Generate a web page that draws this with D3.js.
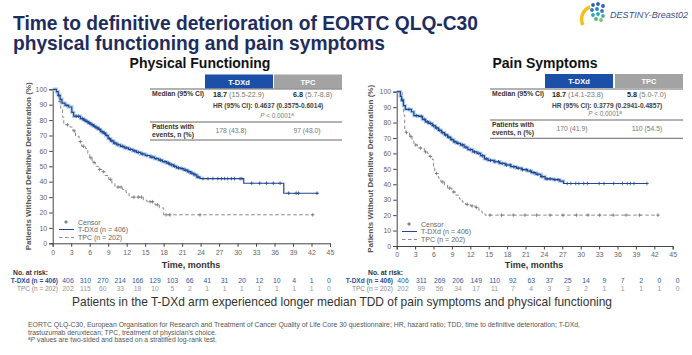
<!DOCTYPE html>
<html><head><meta charset="utf-8">
<script src="https://cdn.jsdelivr.net/npm/d3@7"></script>
<style>body{margin:0;background:#fff} svg{display:block} text{font-family:"Liberation Sans",Arial,Helvetica,sans-serif}</style>
</head><body><svg id="c" width="692" height="355"></svg>
<script>
// ---------------- DATA ----------------
const titleLines = ["Time to definitive deterioration of EORTC QLQ-C30", "physical functioning and pain symptoms"];
const panelTitles = ["Physical Functioning", "Pain Symptoms"];
const xTicks = [0,3,6,9,12,15,18,21,24,27,30,33,36,39,42,45];
const yTicks = [0,10,20,30,40,50,60,70,80,90,100];
const armNames = ["T-DXd", "TPC"];
const legendLabels = ["Censor", "T-DXd (n = 406)", "TPC (n = 202)"];
const riskLabels = ["T-DXd (n = 406)", "TPC (n = 202)"];

// Physical functioning – T-DXd  [time (months), % without deterioration]
const pfTdxdTime = [0,0.6,0.9,1.2,1.5,2.0,2.6,3.1,3.4,4.5,5.0,5.4,5.8,6.2,6.6,7.0,7.4,7.8,8.2,8.6,9.0,9.4,9.9,10.4,11.0,11.6,12.3,13.0,13.6,14.3,15.0,15.8,16.5,17.2,17.8,18.5,19.0,19.6,20.1,20.7,21.3,21.9,22.4,22.9,23.4,23.9,31.0,37.5];
const pfTdxdSurv = [100,98.5,96,93.5,91,89.5,88.5,85,82.5,81,80,79,78,77,76,75,74,72.5,71.5,70,68,66.5,65,64,63,62,61,60,59,58,57,56,55,54,53,52,51,50,49,48.5,47.5,46.5,45.5,44.5,43,42,39,32.5];
const pfTdxdEnd = 43.1;
const pfTdxdCensor = [1.0,2.3,3.8,4.2,4.8,5.2,5.6,6.0,6.4,6.8,7.2,7.6,8.0,8.4,8.8,9.2,9.6,10.1,10.6,11.3,11.9,12.6,13.3,13.9,14.6,15.3,16.1,16.8,17.5,18.2,18.8,19.3,19.8,20.4,21.0,21.6,22.1,22.6,23.1,23.6,24.4,25.2,26.0,26.8,27.4,27.9,28.4,29.0,29.5,30.4,30.7,32.3,33.6,34.7,35.8,36.9,38.3,39.5,39.9,42.9];

// Physical functioning – TPC
const pfTpcTime = [0,0.7,1.0,1.3,1.6,1.8,2.8,3.3,3.7,4.3,4.7,5.3,5.7,6.0,6.4,6.9,7.4,8.0,8.5,9.1,9.6,10.1,11.3,11.9,12.4,14.7,15.3,16.6,17.3,18.0];
const pfTpcSurv = [100,96,92,87,82,77,75.5,73,69.5,66,63,61.5,58,55.5,52.5,50,48,46.5,44,41.5,39,36.5,35,33,30,28,27,25,23,18.5];
const pfTpcEnd = 42.3;
const pfTpcCensor = [1.2,2.4,3.5,4.5,5.0,6.2,6.7,7.6,8.2,9.4,10.6,11.1,13.2,13.9,14.4,15.8,16.2,17.0,18.4,19.0,23.9,42.2];

// Pain symptoms – T-DXd
const painTdxdTime = [0,0.6,0.8,1.1,1.4,2.4,2.8,3.6,4.2,4.7,5.2,5.8,6.3,6.8,7.3,7.8,8.3,8.8,9.3,9.8,10.4,11.0,11.6,12.4,13.1,13.7,14.3,14.9,15.9,16.8,17.7,18.6,19.5,20.4,21.3,22.0,22.7,23.5,24.2,25.5,26.6,27.2];
const painTdxdSurv = [100,97,94.5,91,88.5,87,84.5,84,82,80.5,79.5,78,76.5,75,73.5,72,70.5,69,67.5,66.5,65.5,64,62.5,61,60,58.5,56.5,55.5,54.6,53.5,52.5,51.4,50.5,49.5,48.6,47.5,46.5,45,43.5,43,42,40.5];
const painTdxdEnd = 40.9;
const painTdxdCensor = [0.9,2.0,3.2,4.0,4.5,5.0,5.5,6.0,6.5,7.0,7.5,8.0,8.5,9.0,9.5,10.0,10.7,11.3,12.0,12.7,13.4,14.0,14.6,15.3,16.0,16.6,17.2,17.9,18.5,19.1,19.8,20.5,21.1,21.8,22.4,23.0,23.7,24.5,25.0,25.8,26.3,27.8,28.4,29.2,29.7,30.5,31.1,33.0,33.8,35.4,36.8,37.6,38.1,38.7,40.8];

// Pain symptoms – TPC
const painTpcTime = [0,0.9,1.1,1.3,1.5,2.1,2.5,2.8,3.4,4.5,5.0,5.3,5.8,6.0,6.2,6.8,7.2,7.8,8.3,9.0,9.6,10.2,10.7,11.2,12.0,12.8,13.4,13.9,14.4];
const painTpcSurv = [100,95,85,76,73.5,71,68,65.5,63.5,61,60,58,56,51,47,44,41.5,39.5,37.5,35,33,30.5,28.5,27,26,25,23,21.5,20];
const painTpcEnd = 42.7;
const painTpcCensor = [1.6,2.3,3.1,3.9,4.7,5.5,6.5,7.5,8.6,9.3,11.5,12.3,13.0,15.2,17.1,19.0,20.9,22.8,25.0,27.1,29.3,31.2,33.1,35.3,37.4,39.6,42.6];

// Summary tables
const pfMedian = [["18.7", "(15.5-22.9)"], ["6.8", "(5.7-8.8)"]];
const pfHR = "HR (95% CI): 0.4637 (0.3575-0.6014)";
const pfEvents = ["178 (43.8)", "97 (48.0)"];
const painMedian = [["18.7", "(14.1-23.8)"], ["5.8", "(5.0-7.0)"]];
const painHR = "HR (95% CI): 0.3779 (0.2941-0.4857)";
const painEvents = ["170 (41.9)", "110 (54.5)"];
const pValue = "< 0.0001";

// Number at risk (at xTicks)
const pfRiskTdxd = [406,310,270,214,166,129,103,66,41,31,20,12,10,4,1,0];
const pfRiskTpc  = [202,115,60,33,18,10,5,2,1,1,1,1,1,1,1,0];
const painRiskTdxd = [406,311,269,206,149,110,92,63,37,25,14,9,7,2,0,0];
const painRiskTpc  = [202,99,56,34,17,11,7,4,3,3,2,1,1,1,1,0];

const headline = "Patients in the T-DXd arm experienced longer median TDD of pain symptoms and physical functioning";
const footnotes = [
  "EORTC QLQ-C30, European Organisation for Research and Treatment of Cancer Quality of Life Core 30 questionnaire;  HR, hazard ratio; TDD, time to definitive deterioration; T-DXd,",
  "trastuzumab deruxtecan; TPC, treatment of physician\u2019s choice."
];
const footnote3 = " values are two-sided and based on a stratified log-rank test.";

// ---------------- STYLE ----------------
const NAVY = "#1e2d5e", BLUE = "#23478f", HALO = "#a7c9ec", GREY = "#8c8c8c";
const HDR_BLUE = "#1c4fa8", HDR_GREY = "#a3a3a3";

const svg = d3.select("#c");
svg.append("rect").attr("width", 692).attr("height", 355).attr("fill", "#fff");

// Title
svg.append("text").attr("x", 13).attr("y", 30).attr("font-size", 19.3).attr("font-weight", "bold")
  .attr("fill", NAVY).attr("textLength", 465).attr("lengthAdjust", "spacingAndGlyphs").text(titleLines[0]);
svg.append("text").attr("x", 13).attr("y", 50).attr("font-size", 19.3).attr("font-weight", "bold")
  .attr("fill", NAVY).attr("textLength", 372).attr("lengthAdjust", "spacingAndGlyphs").text(titleLines[1]);

// Logo
const logo = svg.append("g");
logo.append("path").attr("d", "M583,25 A13,13 0 0 1 590,7").attr("fill", "none").attr("stroke", "#f2c21b").attr("stroke-width", 3.5);
[[593,5,"#2b5fb0"],[598,4,"#2b5fb0"],[603,6,"#2b5fb0"],[592,10,"#2e7bc4"],[597,9,"#2e7bc4"],[602,11,"#2e7bc4"],
 [593,15,"#2fa3b8"],[598,14,"#2fa3b8"],[603,16,"#3db59a"],[596,19,"#49b68b"],[601,20,"#7cc36a"]]
  .forEach(d => logo.append("circle").attr("cx", d[0]).attr("cy", d[1]).attr("r", 1.9).attr("fill", d[2]));
logo.append("text").attr("x", 610).attr("y", 18).attr("font-size", 9.5).attr("font-style", "italic")
  .attr("fill", "#3b4f86").attr("textLength", 78).attr("lengthAdjust", "spacingAndGlyphs").text("DESTINY-Breast02");

// ---------------- PANEL ----------------
function panel(o) {
  const x = d3.scaleLinear().domain([0, 45]).range([o.x0, o.x1]);
  const y = d3.scaleLinear().domain([0, 100]).range([o.yb, o.yt]);
  const g = svg.append("g");

  g.append("text").attr("x", o.titleX).attr("y", 68).attr("text-anchor", "middle").attr("font-size", 14)
    .attr("font-weight", "bold").attr("fill", "#111").text(o.title);

  const ax = g.append("g").attr("transform", `translate(0,${o.yb})`)
    .call(d3.axisBottom(x).tickValues(xTicks).tickSize(3.5).tickPadding(3).tickFormat(d3.format("d")));
  const ay = g.append("g").attr("transform", `translate(${o.x0},0)`)
    .call(d3.axisLeft(y).tickValues(yTicks).tickSize(3.5).tickPadding(2).tickFormat(d3.format("d")));
  [ax, ay].forEach(a => {
    a.select(".domain").attr("stroke", "#444").attr("stroke-width", 1);
    a.selectAll(".tick line").attr("stroke", "#444");
    a.selectAll("text").attr("font-size", 7).attr("fill", "#666").attr("font-family", "Liberation Sans, Arial, sans-serif");
  });

  g.append("text").attr("transform", `translate(${o.ylabX},${(o.yb + o.yt) / 2}) rotate(-90)`)
    .attr("text-anchor", "middle").attr("font-size", 8).attr("font-weight", "bold").attr("fill", "#555")
    .text("Patients Without Definitive Deterioration (%)");
  g.append("text").attr("x", o.xlabX).attr("y", 268).attr("text-anchor", "middle").attr("font-size", 9)
    .attr("font-weight", "bold").attr("fill", "#333").text("Time, months");

  const line = d3.line().x(d => x(d[0])).y(d => y(d[1])).curve(d3.curveStepAfter);
  function pts(T, S, end) { const p = T.map((t, i) => [t, S[i]]); p.push([end, S[S.length - 1]]); return p; }
  function survAt(T, S, t) { return S[Math.max(0, d3.bisectRight(T, t) - 1)]; }

  g.append("path").attr("d", line(pts(o.tpc[0], o.tpc[1], o.tpc[2]))).attr("fill", "none")
    .attr("stroke", GREY).attr("stroke-width", 1).attr("stroke-dasharray", "3.5,2.5");
  const tp = pts(o.tdxd[0], o.tdxd[1], o.tdxd[2]).filter(d => d[0] <= o.haloEnd);
  g.append("path").attr("d", line(tp)).attr("fill", "none").attr("stroke", HALO).attr("stroke-width", 3.4).attr("opacity", 0.85);
  g.append("path").attr("d", line(pts(o.tdxd[0], o.tdxd[1], o.tdxd[2]))).attr("fill", "none")
    .attr("stroke", BLUE).attr("stroke-width", 1.2);

  const plus = "M-1.8,0h3.6M0,-1.8v3.6";
  o.tpc[3].forEach(t => g.append("path").attr("d", plus)
    .attr("transform", `translate(${x(t)},${y(survAt(o.tpc[0], o.tpc[1], t))})`).attr("stroke", "#777").attr("stroke-width", 0.8));
  o.tdxd[3].forEach(t => g.append("path").attr("d", plus)
    .attr("transform", `translate(${x(t)},${y(survAt(o.tdxd[0], o.tdxd[1], t))})`).attr("stroke", BLUE).attr("stroke-width", 0.8));

  const L = o.leg;
  g.append("path").attr("d", plus).attr("transform", `translate(${L.x + 7},${L.y})`).attr("stroke", "#555").attr("stroke-width", 0.9);
  g.append("line").attr("x1", L.x).attr("x2", L.x + 15).attr("y1", L.y + 7.5).attr("y2", L.y + 7.5).attr("stroke", BLUE).attr("stroke-width", 1);
  g.append("line").attr("x1", L.x).attr("x2", L.x + 15).attr("y1", L.y + 15.5).attr("y2", L.y + 15.5).attr("stroke", GREY).attr("stroke-width", 1).attr("stroke-dasharray", "3.5,2.5");
  legendLabels.forEach((s, i) => g.append("text").attr("x", L.x + 19).attr("y", L.y + 2.5 + i * 7.8)
    .attr("font-size", 7).attr("fill", "#666").text(s));

  const T = o.tab;
  g.append("rect").attr("x", T.h1).attr("y", T.top).attr("width", T.hw).attr("height", 14).attr("fill", HDR_BLUE);
  g.append("rect").attr("x", T.h2).attr("y", T.top).attr("width", T.hw).attr("height", 14).attr("fill", HDR_GREY);
  [T.h1, T.h2].forEach((hx, i) => g.append("text").attr("x", hx + T.hw / 2).attr("y", T.top + 10).attr("text-anchor", "middle")
    .attr("font-size", 7.5).attr("font-weight", "bold").attr("fill", "#fff").text(armNames[i]));
  [T.l1, T.l2, T.l3].forEach(ly => g.append("line").attr("x1", T.lx - 2).attr("x2", T.h2 + T.hw).attr("y1", ly).attr("y2", ly)
    .attr("stroke", "#555").attr("stroke-width", 0.9));
  g.append("text").attr("x", T.lx).attr("y", T.l1 + 6.5).attr("font-size", 6.8).attr("font-weight", "bold").attr("fill", "#333").text("Median (95% CI)");
  o.median.forEach((m, i) => {
    const t = g.append("text").attr("x", T.mx[i]).attr("y", T.l1 + 8).attr("font-size", 7.2);
    t.append("tspan").attr("font-weight", "bold").attr("fill", "#222").text(m[0]);
    t.append("tspan").attr("fill", "#777").text(" " + m[1]);
  });
  g.append("text").attr("x", T.mx[0]).attr("y", T.l1 + 19).attr("font-size", 6.6).attr("font-weight", "bold").attr("fill", "#444").text(o.hr);
  const pt = g.append("text").attr("x", T.pc).attr("y", T.l2 - 4).attr("text-anchor", "middle").attr("font-size", 6.4).attr("fill", "#777");
  pt.append("tspan").attr("font-style", "italic").text("P");
  pt.append("tspan").text(" " + pValue);
  pt.append("tspan").attr("font-size", 4.5).attr("dy", -2.5).text("a");
  g.append("text").attr("x", T.lx).attr("y", T.l2 + 6.5).attr("font-size", 6.8).attr("font-weight", "bold").attr("fill", "#333").text("Patients with");
  g.append("text").attr("x", T.lx).attr("y", T.l2 + 14.5).attr("font-size", 6.8).attr("font-weight", "bold").attr("fill", "#333").text("events, n (%)");
  o.events.forEach((e, i) => g.append("text").attr("x", T.ec[i]).attr("y", T.l2 + 11).attr("text-anchor", "middle")
    .attr("font-size", 6.8).attr("fill", "#777").text(e));

  const rx = d3.scaleLinear().domain([0, 45]).range(o.riskRange);
  g.append("text").attr("x", o.noRiskX).attr("y", 275).attr("font-size", 6.8).attr("font-weight", "bold").attr("fill", "#333").text("No. at risk:");
  g.append("text").attr("x", o.riskLabX).attr("y", 282.5).attr("text-anchor", "end").attr("font-size", 6.5).attr("font-weight", "bold").attr("fill", "#1f4f9c").text(riskLabels[0]);
  g.append("text").attr("x", o.riskLabX).attr("y", 290.5).attr("text-anchor", "end").attr("font-size", 6.5).attr("fill", "#888").text(riskLabels[1]);
  o.riskT.forEach((v, i) => g.append("text").attr("x", rx(xTicks[i])).attr("y", 282.5).attr("text-anchor", "middle")
    .attr("font-size", 6.8).attr("fill", "#2a5aa5").text(v));
  o.riskC.forEach((v, i) => g.append("text").attr("x", rx(xTicks[i])).attr("y", 290.5).attr("text-anchor", "middle")
    .attr("font-size", 6.8).attr("fill", "#999").text(v));
}

panel({
  title: panelTitles[0], titleX: 200, x0: 52.7, x1: 330, yb: 243.3, yt: 89.3, ylabX: 31, xlabX: 191,
  tdxd: [pfTdxdTime, pfTdxdSurv, pfTdxdEnd, pfTdxdCensor], tpc: [pfTpcTime, pfTpcSurv, pfTpcEnd, pfTpcCensor], haloEnd: 24.5,
  leg: { x: 59, y: 222 },
  tab: { top: 74.5, h1: 205, h2: 274, hw: 68, lx: 152, l1: 89, l2: 122, l3: 140, mx: [213, 293], pc: 277, ec: [231, 307] },
  median: pfMedian, hr: pfHR, events: pfEvents,
  riskRange: [68, 329], noRiskX: 13, riskLabX: 58, riskT: pfRiskTdxd, riskC: pfRiskTpc
});
panel({
  title: panelTitles[1], titleX: 545, x0: 396.7, x1: 672.7, yb: 246, yt: 91.7, ylabX: 373, xlabX: 534,
  tdxd: [painTdxdTime, painTdxdSurv, painTdxdEnd, painTdxdCensor], tpc: [painTpcTime, painTpcSurv, painTpcEnd, painTpcCensor], haloEnd: 27.5,
  leg: { x: 402, y: 224 },
  tab: { top: 74, h1: 545, h2: 615, hw: 68, lx: 492, l1: 89, l2: 120, l3: 138.3, mx: [552, 627], pc: 605, ec: [572, 647] },
  median: painMedian, hr: painHR, events: painEvents,
  riskRange: [403, 677.7], noRiskX: 368, riskLabX: 393, riskT: painRiskTdxd, riskC: painRiskTpc
});

svg.append("text").attr("x", 342).attr("y", 306).attr("text-anchor", "middle").attr("font-size", 13).attr("fill", "#333")
  .attr("textLength", 540).attr("lengthAdjust", "spacingAndGlyphs").text(headline);
svg.append("text").attr("x", 28).attr("y", 327).attr("font-size", 6.8).attr("fill", "#555")
  .attr("textLength", 552).attr("lengthAdjust", "spacingAndGlyphs").text(footnotes[0]);
svg.append("text").attr("x", 28).attr("y", 334.5).attr("font-size", 6.8).attr("fill", "#555").text(footnotes[1]);
const f3 = svg.append("text").attr("x", 28).attr("y", 342).attr("font-size", 6.8).attr("fill", "#555");
f3.append("tspan").attr("font-size", 4.6).attr("dy", -2.5).text("a");
f3.append("tspan").attr("font-style", "italic").attr("dy", 2.5).text("P");
f3.append("tspan").text(footnote3);
</script></body></html>
